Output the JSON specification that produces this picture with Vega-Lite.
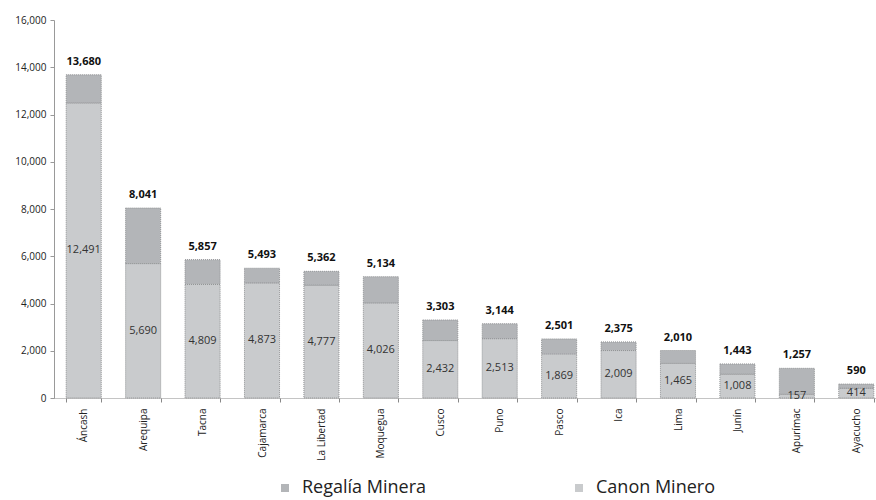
{
  "$schema": "https://vega.github.io/schema/vega-lite/v6.json",
  "autosize": "none",
  "width": 822,
  "height": 378,
  "padding": {"left": 54, "top": 20, "right": 0, "bottom": 102},
  "background": "white",
  "config": {"view": {"stroke": null}, "font": "Open Sans"},
  "data": {"values": [
    {"region": "Áncash", "Canon Minero": 12491, "Regalía Minera": 1189, "total": 13680},
    {"region": "Arequipa", "Canon Minero": 5690, "Regalía Minera": 2351, "total": 8041},
    {"region": "Tacna", "Canon Minero": 4809, "Regalía Minera": 1048, "total": 5857},
    {"region": "Cajamarca", "Canon Minero": 4873, "Regalía Minera": 620, "total": 5493},
    {"region": "La Libertad", "Canon Minero": 4777, "Regalía Minera": 585, "total": 5362},
    {"region": "Moquegua", "Canon Minero": 4026, "Regalía Minera": 1108, "total": 5134},
    {"region": "Cusco", "Canon Minero": 2432, "Regalía Minera": 871, "total": 3303},
    {"region": "Puno", "Canon Minero": 2513, "Regalía Minera": 631, "total": 3144},
    {"region": "Pasco", "Canon Minero": 1869, "Regalía Minera": 632, "total": 2501},
    {"region": "Ica", "Canon Minero": 2009, "Regalía Minera": 366, "total": 2375},
    {"region": "Lima", "Canon Minero": 1465, "Regalía Minera": 545, "total": 2010},
    {"region": "Junín", "Canon Minero": 1008, "Regalía Minera": 435, "total": 1443},
    {"region": "Apurímac", "Canon Minero": 157, "Regalía Minera": 1100, "total": 1257},
    {"region": "Ayacucho", "Canon Minero": 414, "Regalía Minera": 176, "total": 590}
  ]},
  "encoding": {
    "x": {
      "field": "region", "type": "nominal", "sort": null,
      "scale": {"range": [0, 832], "paddingInner": 0.41, "paddingOuter": 0.205},
      "axis": {
        "title": null, "labelAngle": -90, "labelFontSize": 10, "labelColor": "#222",
        "labelPadding": 6,
        "domainColor": "#888", "domainDash": [1, 1], "tickColor": "#888", "tickSize": 4,
        "tickBand": "extent"
      }
    }
  },
  "layer": [
    {
      "transform": [{"fold": ["Canon Minero", "Regalía Minera"], "as": ["tipo", "valor"]}],
      "mark": {"type": "bar", "stroke": "#8f9193", "strokeWidth": 1, "strokeDash": [1, 1]},
      "encoding": {
        "y": {
          "field": "valor", "type": "quantitative", "stack": "zero",
          "scale": {"domain": [0, 16000]},
          "axis": {
            "title": null, "values": [0, 2000, 4000, 6000, 8000, 10000, 12000, 14000, 16000],
            "format": ",.0f", "grid": false, "labelFontSize": 10, "labelColor": "#222",
            "domainColor": "#999", "tickColor": "#999", "tickSize": 4, "labelPadding": 4
          }
        },
        "color": {
          "field": "tipo", "type": "nominal",
          "scale": {"domain": ["Regalía Minera", "Canon Minero"], "range": ["#b3b5b8", "#c9cbcd"]},
          "legend": {
            "title": null, "orient": "none", "direction": "horizontal",
            "legendX": 222, "legendY": 459, "padding": 0,
            "symbolType": "square", "symbolSize": 64, "symbolStrokeWidth": 0,
            "labelFontSize": 18, "labelColor": "#222", "labelOffset": 8,
            "columnPadding": 144, "labelLimit": 300
          }
        },
        "order": {"field": "tipo", "sort": "ascending"}
      }
    },
    {
      "mark": {"type": "text", "fontSize": 11, "color": "#333", "baseline": "middle"},
      "encoding": {
        "y": {"field": "Canon Minero", "type": "quantitative", "scale": {"domain": [0, 32000]}, "axis": null},
        "text": {"field": "Canon Minero", "type": "quantitative", "format": ",.0f"}
      }
    },
    {
      "mark": {"type": "text", "fontSize": 11, "fontWeight": "bold", "color": "#111", "baseline": "bottom", "dy": -8},
      "encoding": {
        "y": {"field": "total", "type": "quantitative", "scale": {"domain": [0, 16000]}, "axis": null},
        "text": {"field": "total", "type": "quantitative", "format": ",.0f"}
      }
    }
  ],
  "resolve": {"scale": {"y": "independent"}}
}
